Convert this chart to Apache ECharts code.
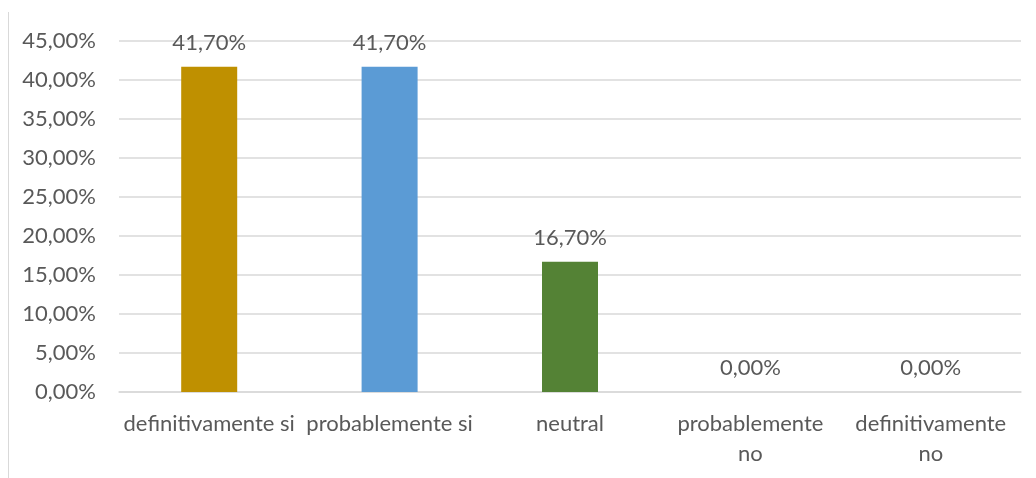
<!DOCTYPE html>
<html>
<head>
<meta charset="utf-8">
<script src="https://cdn.jsdelivr.net/npm/echarts@6/dist/echarts.min.js"></script>
<style>
  html, body { margin: 0; padding: 0; background: #ffffff; }
  #chart { width: 1036px; height: 478px; }
</style>
</head>
<body>
<div id="chart"></div>
<script>
// Response categories (line breaks where the label wraps)
const categories = ['definitivamente si', 'probablemente si', 'neutral', 'probablemente\nno', 'definitivamente\nno'];
// Share of responses, in percent
const values = [41.7, 41.7, 16.7, 0, 0];
// One fill per bar
const barColors = ['#BF9000', '#5B9BD5', '#548235', '#A5A5A5', '#FFC000'];
// Y axis scale
const yMin = 0, yMax = 45, yStep = 5;

const pct = v => v.toFixed(2).replace('.', ',') + '%';
const FONT = 'Lato, "Open Sans", sans-serif';
const TEXT = '#595959';

const chart = echarts.init(document.getElementById('chart'), null, { renderer: 'canvas' });
chart.setOption({
  animation: false,
  backgroundColor: '#ffffff',
  grid: { left: 119, right: 15, top: 41, bottom: 86, containLabel: false },
  graphic: [{
    type: 'rect',
    shape: { x: 8, y: 12, width: 1, height: 470 },
    style: { fill: '#d9d9d9' },
    silent: true
  }],
  xAxis: {
    type: 'category',
    data: categories,
    axisLine: { show: true, lineStyle: { color: '#d9d9d9', width: 1.5 } },
    axisTick: { show: false },
    axisLabel: {
      color: TEXT, fontFamily: FONT, fontSize: 22, lineHeight: 30,
      margin: 17, interval: 0
    }
  },
  yAxis: {
    type: 'value',
    min: yMin, max: yMax, interval: yStep,
    axisLine: { show: false },
    axisTick: { show: false },
    splitLine: { lineStyle: { color: '#d9d9d9', width: 1.5 } },
    axisLabel: {
      color: TEXT, fontFamily: FONT, fontSize: 22, margin: 23,
      formatter: v => pct(v)
    }
  },
  series: [{
    type: 'bar',
    data: values.map((v, i) => ({ value: v, itemStyle: { color: barColors[i] } })),
    barWidth: 56,
    label: {
      show: true, position: 'top', distance: 13,
      color: TEXT, fontFamily: FONT, fontSize: 22,
      formatter: p => pct(p.value)
    }
  }]
});
</script>
</body>
</html>
